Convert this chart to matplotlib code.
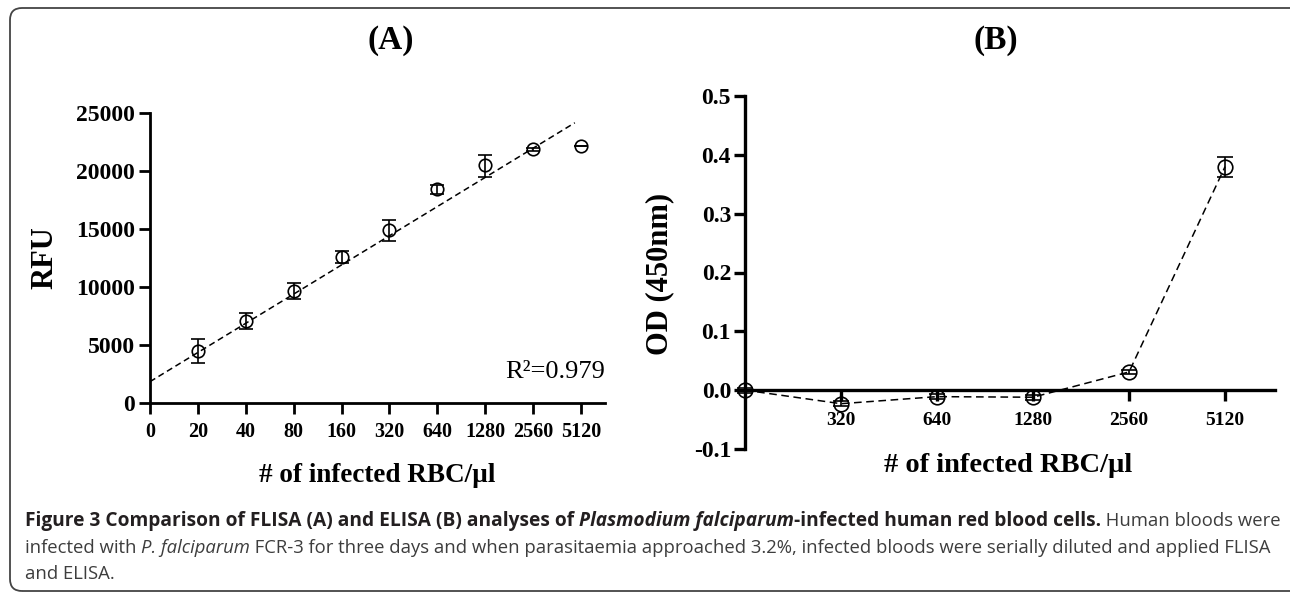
import matplotlib
matplotlib.use("Agg")
import matplotlib.pyplot as plt
import numpy as np
from matplotlib.patches import FancyBboxPatch

# panel A: FLISA, RFU per dilution step
a_labels = ['0', '20', '40', '80', '160', '320', '640', '1280', '2560', '5120']
a_rfu = [4509, 7069, 9684, 12613, 14914, 18420, 20517, 21870, 22155]
a_err_lo = [1090, 720, 720, 570, 920, 430, 1040, 150, 0]
a_err_hi = [1010, 720, 690, 520, 860, 370, 860, 150, 0]
fit_intercept = 1840
fit_slope = 2516
fit_end = 8.87

# panel B: ELISA, OD 450nm
b_labels = ['', '320', '640', '1280', '2560', '5120']
b_od = [0.0, -0.023, -0.011, -0.012, 0.031, 0.380]
b_err = [0.004, 0.004, 0.004, 0.004, 0.004, 0.017]

W, H = 1290, 593
serif = 'Liberation Serif'

fig = plt.figure(figsize=(W / 100, H / 100), dpi=100)


def px(x, y):
    return x / W, 1 - y / H


def style_axes(ax, lw):
    for s in ['top', 'right']:
        ax.spines[s].set_visible(False)
    for s in ['left', 'bottom']:
        ax.spines[s].set_linewidth(lw)
    ax.tick_params(direction='out', length=8, width=lw)


def no_clip(container):
    for art in container.get_children():
        art.set_clip_on(False)


# ---------- (A)
axA = fig.add_axes([150 / W, 1 - 403 / H, 455 / W, 290 / H])
style_axes(axA, 2.0)
xa = np.arange(1, len(a_rfu) + 1)
ebA = axA.errorbar(xa, a_rfu, yerr=[a_err_lo, a_err_hi], fmt='o', mfc='none', mec='black',
                   ms=9, mew=1.2, ecolor='black', elinewidth=1.2, capsize=5, capthick=1.3, zorder=3)
no_clip(ebA)
fx = np.array([0, fit_end])
axA.plot(fx, fit_intercept + fit_slope * fx, color='black', lw=1.1, ls=(0, (4, 2.5)))
axA.set_xlim(0, 9.5)
axA.set_ylim(0, 25000)
axA.set_yticks(np.arange(0, 25001, 5000))
axA.set_xticks(range(len(a_labels)))
axA.set_xticklabels(a_labels, fontfamily=serif, fontweight='bold', fontsize=14.5)
axA.set_yticklabels([str(v) for v in range(0, 25001, 5000)], fontfamily=serif,
                    fontweight='bold', fontsize=17)
axA.tick_params(axis='x', pad=6)
axA.tick_params(axis='y', pad=3)
axA.text(9.5, 2155, 'R\u00b2=0.979', ha='right', va='baseline', fontfamily=serif, fontsize=19)

# ---------- (B)
axB = fig.add_axes([745 / W, 1 - 449 / H, 530 / W, 353 / H])
style_axes(axB, 2.4)
axB.spines['bottom'].set_position(('data', 0))
xb = np.arange(len(b_od))
ebB = axB.errorbar(xb, b_od, yerr=b_err, fmt='o', mfc='none', mec='black', ms=10.5, mew=1.2,
                   ecolor='black', elinewidth=1.2, capsize=6, capthick=1.4, zorder=3)
no_clip(ebB)
axB.plot(xb, b_od, color='black', lw=1.1, ls=(0, (5, 3)))
axB.set_xlim(0, 5.52)
axB.set_ylim(-0.1, 0.5)
axB.set_xticks(xb[1:])
axB.set_xticklabels(b_labels[1:], fontfamily=serif, fontweight='bold', fontsize=14)
yt = np.arange(-0.1, 0.51, 0.1)
axB.set_yticks(yt)
axB.set_yticklabels(['%.1f' % v for v in yt], fontfamily=serif, fontweight='bold', fontsize=17)
axB.tick_params(axis='x', pad=8)
axB.tick_params(axis='y', pad=2)

# titles and axis labels
tk = dict(fontfamily=serif, fontweight='bold', ha='center', va='center')
fig.text(*px(391, 41), '(A)', fontsize=24, **tk)
fig.text(*px(996, 41), '(B)', fontsize=24, **tk)
fig.text(*px(45, 258), 'RFU', fontsize=22, rotation=90, **tk)
fig.text(*px(660, 274), 'OD (450nm)', fontsize=22, rotation=90, **tk)
fig.text(*px(377, 476), '# of infected RBC/\u00b5l', fontsize=19.5, **tk)
fig.text(*px(1008, 465), '# of infected RBC/\u00b5l', fontsize=20.5, **tk)

# caption
cap_font = 'Open Sans'
size_bold = 13.75
size_reg = 13.3
dark = '#231f20'
grey = '#3d3d3d'
lines = [
    (526, [('Figure 3 Comparison of FLISA (A) and ELISA (B) analyses of ', 'bold', 'normal', dark),
           ('Plasmodium falciparum', 'bold', 'italic', dark),
           ('-infected human red blood cells.', 'bold', 'normal', dark),
           (' Human bloods were', 'normal', 'normal', grey)]),
    (553, [('infected with ', 'normal', 'normal', grey),
           ('P. falciparum', 'normal', 'italic', grey),
           (' FCR-3 for three days and when parasitaemia approached 3.2%, infected bloods '
            'were serially diluted and applied FLISA', 'normal', 'normal', grey)]),
    (579, [('and ELISA.', 'normal', 'normal', grey)]),
]
renderer = fig.canvas.get_renderer()
for y, parts in lines:
    x = 25
    for txt, wt, st, col in parts:
        size = size_bold if wt == 'bold' else size_reg
        t = fig.text(*px(x, y), txt, fontfamily=cap_font, fontsize=size, fontweight=wt,
                     fontstyle=st, color=col, ha='left', va='baseline')
        x += t.get_window_extent(renderer).width

# rounded frame, right side runs off the picture
frame = FancyBboxPatch((0.10, 0.02), 12.95, 5.83, boxstyle='round,pad=0,rounding_size=0.12',
                       transform=fig.dpi_scale_trans, fill=False, edgecolor='#444444', lw=1.3)
fig.patches.append(frame)

fig.savefig('out.png', dpi=100)
